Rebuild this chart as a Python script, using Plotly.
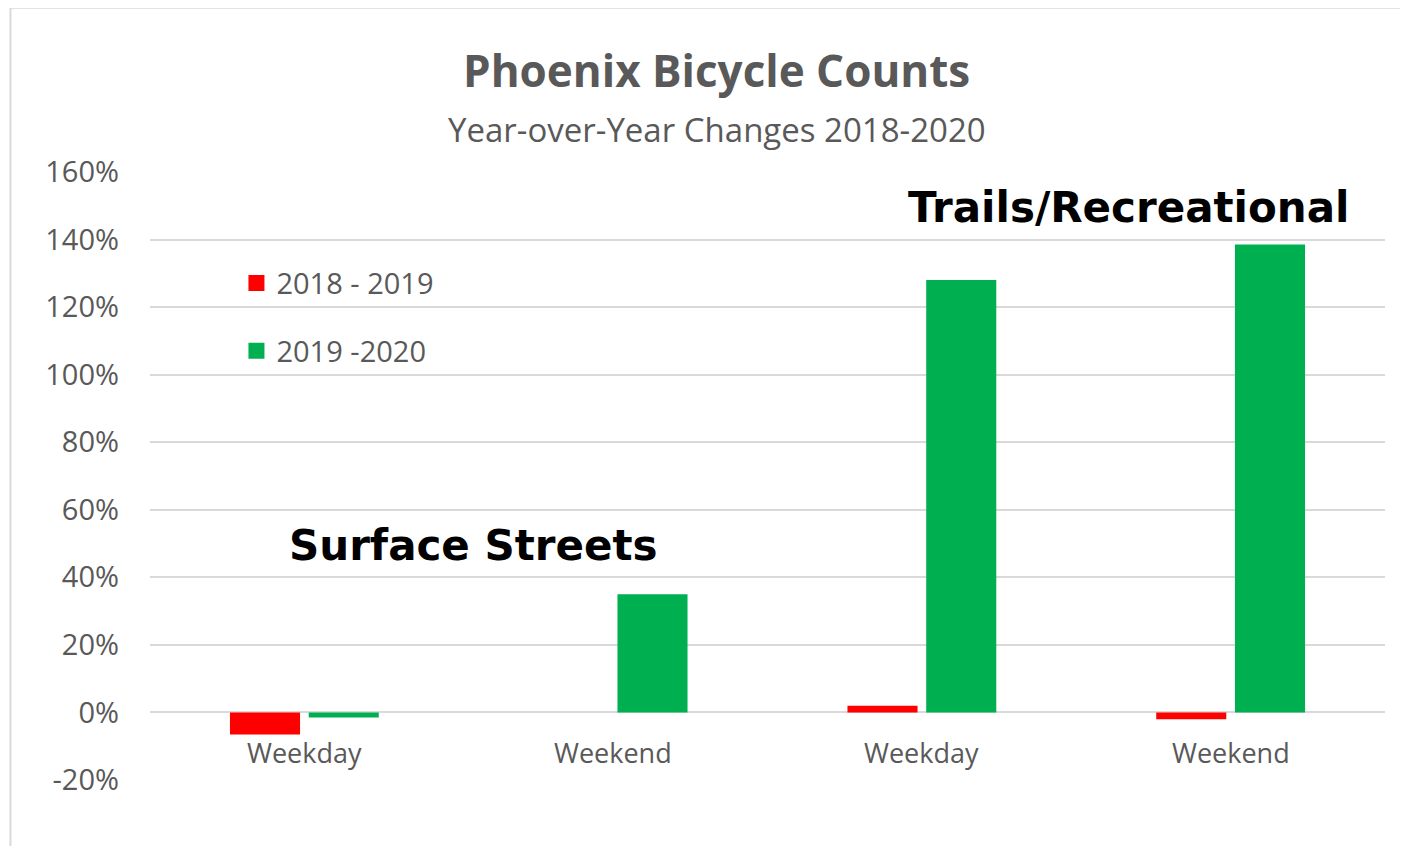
import plotly.graph_objects as go

positions = ["s_wd", "s_we", "t_wd", "t_we"]
tick_labels = ["Weekday", "Weekend", "Weekday", "Weekend"]
series_names = ["2018 - 2019", "2019 -2020"]
vals_1819 = [-0.065, 0.0, 0.02, -0.02]
vals_1920 = [-0.015, 0.35, 1.28, 1.385]
colors = ["#FF0000", "#00B050"]
y_tickvals = [-0.2, 0.0, 0.2, 0.4, 0.6, 0.8, 1.0, 1.2, 1.4, 1.6]
y_ticktext = ["-20%", "0%", "20%", "40%", "60%", "80%", "100%", "120%", "140%", "160%"]

FONT = "Open Sans"
GRAY = "#595959"

fig = go.Figure()
for vals, name, col in zip([vals_1819, vals_1920], series_names, colors):
    fig.add_trace(go.Bar(x=positions, y=vals, name=name, showlegend=False,
                         marker=dict(color=col, line=dict(width=0))))
# legend entries with larger square swatches
for i, (name, col) in enumerate(zip(series_names, colors)):
    fig.add_trace(go.Scatter(x=[None], y=[None], mode="markers", name=name, legendgroup=f"g{i}",
                             marker=dict(symbol="square", size=17, color=col)))

for p, lab in zip(positions, tick_labels):
    fig.add_annotation(x=p, y=0, xref="x", yref="y", text=lab, showarrow=False,
                       yanchor="top", yshift=-20, font=dict(family=FONT, size=27, color=GRAY))

fig.add_annotation(x=0.262, y=0.495, xref="paper", yref="y", text="<b>Surface Streets</b>", showarrow=False,
                   font=dict(family="DejaVu Sans", size=42, color="#000000"), xanchor="center", yanchor="middle")
fig.add_annotation(x=0.792, y=1.496, xref="paper", yref="y", text="<b>Trails/Recreational</b>", showarrow=False,
                   font=dict(family="DejaVu Sans", size=42, color="#000000"), xanchor="center", yanchor="middle")

fig.add_annotation(x=0.459, y=1.0, xref="paper", yref="paper", text="<b>Phoenix Bicycle Counts</b>", showarrow=False,
                   yanchor="bottom", yshift=70, font=dict(family=FONT, size=44, color=GRAY))
fig.add_annotation(x=0.459, y=1.0, xref="paper", yref="paper", text="Year-over-Year Changes 2018-2020", showarrow=False,
                   yanchor="bottom", yshift=18, font=dict(family=FONT, size=33, color=GRAY))

fig.add_shape(type="rect", xref="paper", yref="paper", x0=-0.113, x1=1.1, y0=-0.2, y1=1.27,
              line=dict(color="#d9d9d9", width=2), fillcolor="rgba(0,0,0,0)", layer="below")

fig.update_layout(
    width=1408, height=846,
    margin=dict(l=142, r=31, t=164, b=74),
    paper_bgcolor="white", plot_bgcolor="white",
    barmode="group", bargap=0.49, bargroupgap=0.11,
    showlegend=True,
    legend=dict(x=0.070, y=0.859, xanchor="left", yanchor="top", bgcolor="rgba(0,0,0,0)",
                font=dict(family=FONT, size=29, color=GRAY), tracegroupgap=27, itemwidth=30),
    xaxis=dict(showticklabels=False, showgrid=False, zeroline=False, showline=False),
    yaxis=dict(range=[-0.2, 1.6], tickmode="array", tickvals=y_tickvals, ticktext=y_ticktext,
               showgrid=True, gridcolor="#d9d9d9", gridwidth=1.5,
               zeroline=True, zerolinecolor="#d9d9d9", zerolinewidth=1.5, showline=False, ticks="",
               ticklabelstandoff=30,
               tickfont=dict(family=FONT, size=29, color=GRAY)),
)

fig.write_html("out.html")
